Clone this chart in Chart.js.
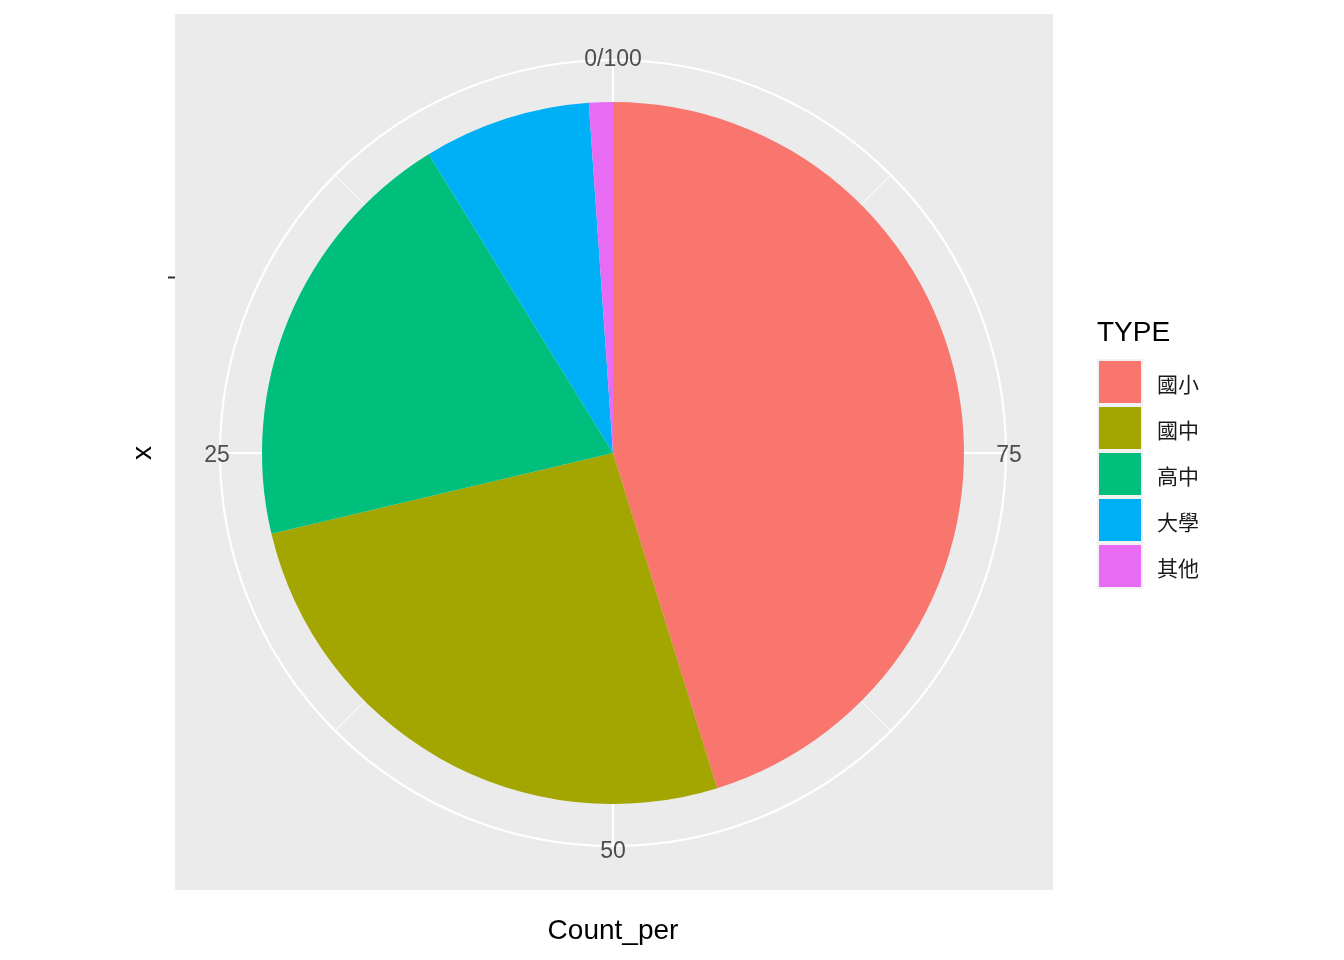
<!DOCTYPE html>
<html>
<head>
<meta charset="utf-8">
<script src="https://cdn.jsdelivr.net/npm/chart.js@4.4.0/dist/chart.umd.min.js"></script>
<style>
  html, body { margin: 0; padding: 0; background: #ffffff; }
  canvas { display: block; }
</style>
</head>
<body>
<canvas id="pieChart" width="1344" height="960"></canvas>
<script>
// data
const types = ['國小', '國中', '高中', '大學', '其他'];
const countPer = [45.2, 26.1, 19.9, 7.7, 1.1];
const typeColors = ['#F8766D', '#A3A500', '#00BF7D', '#00B0F6', '#E76BF3'];
const thetaTicks = [0, 25, 50, 75];
const thetaLabels = ['0/100', '25', '50', '75'];
const minorTicks = [12.5, 37.5, 62.5, 87.5];
const thetaMax = 100;

const LATIN = '"Liberation Sans", Arial, sans-serif';
const CJK = '"Noto Sans CJK TC", "Noto Sans CJK SC", sans-serif';

// theta axis runs counter-clockwise from the top (ggplot direction = -1)
const ang = v => -v / thetaMax * Math.PI * 2 - Math.PI / 2;

// ggplot-like panel, grid, axis texts and legend
const ggDecor = {
    id: 'ggDecor',
    beforeDraw(chart) {
        const ctx = chart.ctx;
        const arc = chart.getDatasetMeta(0).data[0];
        const cx = arc.x, cy = arc.y, r = arc.outerRadius;
        const rGrid = r * 393 / 351;

        ctx.save();
        ctx.fillStyle = '#ffffff';
        ctx.fillRect(0, 0, chart.width, chart.height);

        // panel
        ctx.fillStyle = '#EBEBEB';
        ctx.fillRect(175, 14, 878, 876);

        // minor spokes
        ctx.strokeStyle = '#ffffff';
        ctx.lineWidth = 1;
        minorTicks.forEach(v => {
            ctx.beginPath();
            ctx.moveTo(cx, cy);
            ctx.lineTo(cx + rGrid * Math.cos(ang(v)), cy + rGrid * Math.sin(ang(v)));
            ctx.stroke();
        });

        // major spokes
        ctx.lineWidth = 2.2;
        thetaTicks.forEach(v => {
            ctx.beginPath();
            ctx.moveTo(cx, cy);
            ctx.lineTo(cx + rGrid * Math.cos(ang(v)), cy + rGrid * Math.sin(ang(v)));
            ctx.stroke();
        });

        // outer circle
        ctx.beginPath();
        ctx.arc(cx, cy, rGrid, 0, Math.PI * 2);
        ctx.stroke();
        ctx.restore();
    },
    afterDraw(chart) {
        const ctx = chart.ctx;
        const arc = chart.getDatasetMeta(0).data[0];
        const cx = arc.x, cy = arc.y, r = arc.outerRadius;
        const rLab = r * 396 / 351;

        ctx.save();
        // theta tick labels
        ctx.fillStyle = '#4D4D4D';
        ctx.font = '23px ' + LATIN;
        ctx.textAlign = 'center';
        ctx.textBaseline = 'middle';
        thetaTicks.forEach((v, i) => {
            ctx.fillText(thetaLabels[i], cx + rLab * Math.cos(ang(v)), cy + rLab * Math.sin(ang(v)) + 3);
        });

        // r axis tick
        ctx.strokeStyle = '#333333';
        ctx.lineWidth = 2;
        ctx.beginPath();
        ctx.moveTo(168, cy - r / 2);
        ctx.lineTo(175, cy - r / 2);
        ctx.stroke();

        // axis titles
        ctx.fillStyle = '#000000';
        ctx.font = '28px ' + LATIN;
        ctx.fillText('Count_per', 613, 931);
        ctx.save();
        ctx.translate(143, 453);
        ctx.rotate(-Math.PI / 2);
        ctx.fillText('x', 0, 0);
        ctx.restore();

        // legend
        ctx.textAlign = 'left';
        ctx.fillText('TYPE', 1097, 333);
        const keyX = 1097, keyY = 359, pitch = 46;
        ctx.fillStyle = '#F2F2F2';
        ctx.fillRect(keyX, keyY, 46, pitch * types.length);
        types.forEach((t, i) => {
            ctx.fillStyle = typeColors[i];
            ctx.fillRect(keyX + 2, keyY + 2 + i * pitch, 42, 42);
            ctx.fillStyle = '#1a1a1a';
            ctx.font = '21px ' + CJK;
            ctx.fillText(t, 1157, keyY + 25 + i * pitch);
        });
        ctx.restore();
    }
};

const pieChart = new Chart(document.getElementById('pieChart'), {
    type: 'pie',
    data: {
        labels: types,
        datasets: [{
            label: 'Count_per',
            data: countPer,
            backgroundColor: typeColors,
            borderWidth: 0
        }]
    },
    options: {
        responsive: false,
        animation: false,
        layout: {
            padding: { left: 262, top: 102, right: 380, bottom: 156 }
        },
        plugins: {
            legend: { display: false },
            tooltip: { enabled: false }
        }
    },
    plugins: [ggDecor]
});
</script>
</body>
</html>
